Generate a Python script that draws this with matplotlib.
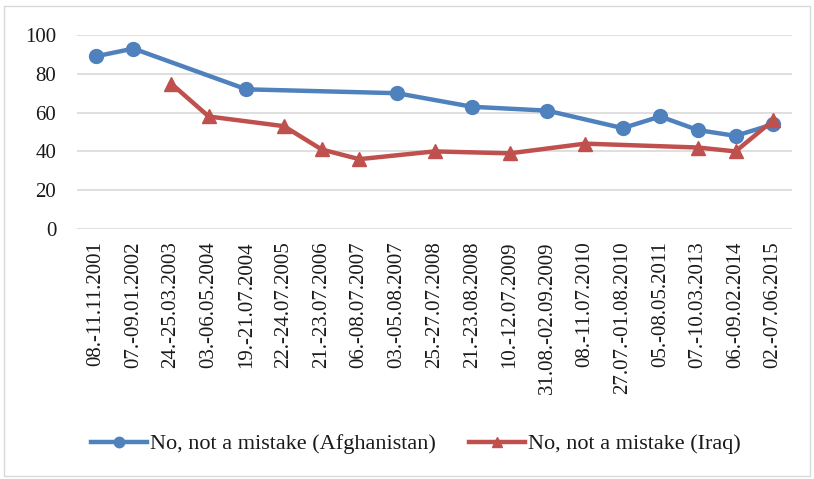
import matplotlib.pyplot as plt
import matplotlib.patches as mpatches
import numpy as np

plt.rcParams['font.family'] = ['Liberation Serif', 'DejaVu Serif']

dates = ['08.-11.11.2001', '07.-09.01.2002', '24.-25.03.2003', '03.-06.05.2004',
         '19.-21.07.2004', '22.-24.07.2005', '21.-23.07.2006', '06.-08.07.2007',
         '03.-05.08.2007', '25.-27.07.2008', '21.-23.08.2008', '10.-12.07.2009',
         '31.08.-02.09.2009', '08.-11.07.2010', '27.07.-01.08.2010', '05.-08.05.2011',
         '07.-10.03.2013', '06.-09.02.2014', '02.-07.06.2015']

# survey index -> value, missing surveys are skipped
afg_idx = [0, 1, 4, 8, 10, 12, 14, 15, 16, 17, 18]
afg_val = [89, 93, 72, 70, 63, 61, 52, 58, 51, 48, 54]
iraq_idx = [2, 3, 5, 6, 7, 9, 11, 13, 16, 17, 18]
iraq_val = [75, 58, 53, 41, 36, 40, 39, 44, 42, 40, 56]

blue = '#4F81BD'
red = '#C0504D'

fig = plt.figure(figsize=(8.14, 4.79), dpi=100)
ax = fig.add_axes([77/814, 1 - 229/479, (792 - 77)/814, (229 - 35)/479])

ax.plot(afg_idx, afg_val, color=blue, lw=3.2, marker='o', ms=10,
        label='No, not a mistake (Afghanistan)', clip_on=False, zorder=3)
ax.plot(iraq_idx, iraq_val, color=red, lw=3.2, marker='^', ms=10,
        label='No, not a mistake (Iraq)', clip_on=False, zorder=3)

ax.set_xlim(-0.5, len(dates) - 0.5)
ax.set_ylim(0, 100)
ax.set_yticks(np.arange(0, 101, 20))
ax.set_xticks(range(len(dates)))
ax.set_xticklabels(dates, rotation=90)
ax.tick_params(axis='both', length=0, labelsize=15, colors='#1a1a1a')
ax.tick_params(axis='x', pad=9)
ax.tick_params(axis='y', pad=15)
ax.grid(axis='y', color='#D9D9D9', lw=1.2)
ax.set_axisbelow(True)
for s in ax.spines.values():
    s.set_visible(False)

leg = fig.legend(loc='center', bbox_to_anchor=(416/814, 1 - 444/479), ncol=2,
                 frameon=False, fontsize=16, handlelength=2.5, handletextpad=0.15,
                 columnspacing=1.5, markerscale=0.75)
for t in leg.get_texts():
    t.set_color('#1a1a1a')

fig.patches.append(mpatches.Rectangle((4/814, 3/479), 806/814, 470/479,
                                      transform=fig.transFigure, fill=False,
                                      edgecolor='#D9D9D9', lw=1))

fig.savefig('out.png', dpi=100)
